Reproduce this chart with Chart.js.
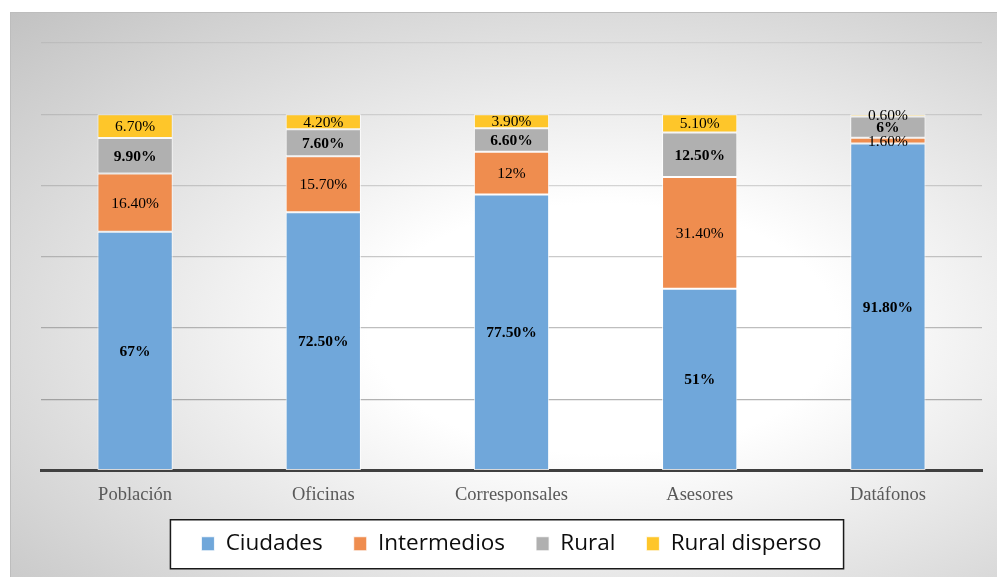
<!DOCTYPE html>
<html>
<head>
<meta charset="utf-8">
<script src="https://cdn.jsdelivr.net/npm/chart.js@4/dist/chart.umd.min.js"></script>
<style>
  html, body { margin: 0; padding: 0; background: #ffffff; }
  body { width: 997px; height: 577px; position: relative; overflow: hidden; }
  #frame {
    position: absolute; left: 10px; top: 12px; width: 987px; height: 565px;
    box-sizing: border-box;
    border-top: 1px solid #bdbdbd; border-left: 1px solid #bdbdbd;
    background: radial-gradient(ellipse farthest-corner at 60% 56%, #ffffff 0%, #ffffff 28%, #c2c2c2 100%);
  }
  #chart { position: absolute; left: 0; top: 0; }
</style>
</head>
<body>
<div id="frame"><canvas id="chart" width="987" height="565"></canvas></div>
<script>
const categories = ["Población", "Oficinas", "Corresponsales", "Asesores", "Datáfonos"];
const ciudades = [67, 72.5, 77.5, 51, 91.8];
const intermedios = [16.4, 15.7, 12, 31.4, 1.6];
const rural = [9.9, 7.6, 6.6, 12.5, 6];
const ruralDisperso = [6.7, 4.2, 3.9, 5.1, 0.6];
const yMax = 120;
const yStep = 20;

function fmtPct(v) {
  return Number.isInteger(v) ? v + "%" : v.toFixed(2) + "%";
}

// value labels in the middle of every segment
const segmentLabels = {
  id: "segmentLabels",
  afterDatasetsDraw(chart) {
    const ctx = chart.ctx;
    ctx.save();
    ctx.textAlign = "center";
    ctx.textBaseline = "middle";
    ctx.fillStyle = "#000000";
    chart.data.datasets.forEach((ds, i) => {
      const meta = chart.getDatasetMeta(i);
      ctx.font = (ds.boldLabels ? "bold " : "") + "15.5px 'Liberation Serif', 'Times New Roman', serif";
      meta.data.forEach((bar, j) => {
        const y = (bar.y + bar.base) / 2;
        ctx.fillText(fmtPct(ds.data[j]), bar.x, y + 1);
      });
    });
    ctx.restore();
  }
};

// white box with dark outline behind the legend
const legendBox = {
  id: "legendBox",
  beforeDraw(chart) {
    const hb = chart.legend && chart.legend.legendHitBoxes;
    if (!hb || !hb.length) return;
    const left = Math.min(...hb.map(h => h.left)) - 31;
    const right = Math.max(...hb.map(h => h.left + h.width)) + 22;
    const mid = hb[0].top + hb[0].height / 2;
    const ctx = chart.ctx;
    ctx.save();
    ctx.fillStyle = "#ffffff";
    ctx.strokeStyle = "#1a1a1a";
    ctx.lineWidth = 1.5;
    ctx.fillRect(left, mid - 24, right - left, 49);
    ctx.strokeRect(left, mid - 24, right - left, 49);
    ctx.restore();
  }
};

const barStyle = { borderColor: "rgba(255,255,255,0.8)", borderWidth: 1, borderSkipped: false, barPercentage: 0.5, categoryPercentage: 0.8 };

new Chart(document.getElementById("chart"), {
  type: "bar",
  data: {
    labels: categories,
    datasets: [
      { label: "Ciudades", data: ciudades, backgroundColor: "#70a7da", boldLabels: true, ...barStyle },
      { label: "Intermedios", data: intermedios, backgroundColor: "#ef8d4f", boldLabels: false, ...barStyle },
      { label: "Rural", data: rural, backgroundColor: "#b0b0b0", boldLabels: true, ...barStyle },
      { label: "Rural disperso", data: ruralDisperso, backgroundColor: "#fec62a", boldLabels: false, ...barStyle }
    ]
  },
  options: {
    responsive: false,
    animation: false,
    layout: { padding: { left: 30, right: 16, top: 30, bottom: 13 } },
    plugins: {
      legend: {
        position: "bottom",
        labels: {
          boxWidth: 13, boxHeight: 14, padding: 31,
          color: "#0d0d0d",
          font: { family: "'Open Sans', 'Liberation Sans', sans-serif", size: 22.5 }
        }
      },
      tooltip: { enabled: false }
    },
    scales: {
      x: {
        stacked: true,
        grid: { display: false },
        border: { display: true, color: "#404040", width: 3 },
        ticks: { color: "#595959", padding: 6, font: { family: "'Liberation Serif', 'Times New Roman', serif", size: 18.5 } },
        afterFit: s => { s.height = 31; }
      },
      y: {
        stacked: true,
        min: 0, max: yMax,
        ticks: { display: false, stepSize: yStep },
        border: { display: false },
        grid: {
          drawTicks: false,
          lineWidth: 1.2,
          color: c => "rgba(80,80,80," + (0.5 - c.tick.value / 300).toFixed(3) + ")"
        }
      }
    }
  },
  plugins: [legendBox, segmentLabels]
});
</script>
</body>
</html>
